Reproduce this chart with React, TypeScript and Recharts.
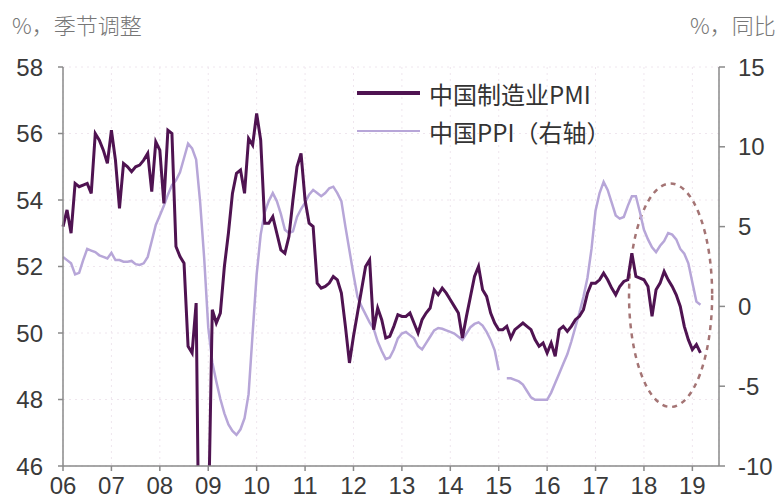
import { CartesianGrid, Line, LineChart, ReferenceArea, XAxis, YAxis } from "recharts";

// x axis: month index from Jan 2006, one tick per year
const yearLabels = ["06", "07", "08", "09", "10", "11", "12", "13", "14", "15", "16", "17", "18", "19"];
const pmiTicks = [46, 48, 50, 52, 54, 56, 58];
const ppiTicks = [-10, -5, 0, 5, 10, 15];
const seriesNames = ["中国制造业PMI", "中国PPI（右轴）"];

// 中国制造业PMI, seasonally adjusted, monthly Jan 2006 .. Mar 2019
const pmi = [
  53.2, 53.7, 53.0, 54.5, 54.4, 54.45, 54.5, 54.2, 56.0, 55.8, 55.5, 55.1,
  56.1, 55.2, 53.75, 55.1, 55.0, 54.85, 55.0, 55.05, 55.2, 55.4, 54.25, 55.75,
  55.5, 53.9, 56.1, 56.0, 52.6, 52.3, 52.1, 49.6, 49.4, 50.9, 40.0, 41.0,
  44.0, 50.7, 50.3, 50.6, 52.0, 53.0, 54.2, 54.8, 54.9, 54.2, 55.85, 55.65,
  56.6, 55.8, 53.3, 53.3, 53.5, 53.0, 52.5, 52.4, 52.9, 54.0, 55.0, 55.4,
  54.0, 53.3, 53.2, 51.5, 51.35, 51.4, 51.5, 51.7, 51.6, 51.2, 50.2, 49.1,
  49.9, 50.6, 51.3, 52.0, 52.2, 50.1, 50.75, 50.4, 49.85, 49.9, 50.2, 50.55,
  50.5, 50.5, 50.6, 50.3, 50.0, 50.4, 50.6, 50.75, 51.3, 51.15, 51.35, 51.2,
  51.0, 50.8, 50.6, 49.85, 50.5, 51.1, 51.7, 52.0, 51.3, 51.1, 50.6, 50.3,
  50.1, 50.1, 50.2, 49.85, 50.1, 50.2, 50.3, 50.2, 50.1, 49.8, 49.6, 49.7,
  49.4, 49.7, 49.3, 50.1, 50.2, 50.05, 50.2, 50.4, 50.5, 50.7, 51.2, 51.5,
  51.5, 51.6, 51.8, 51.6, 51.35, 51.15, 51.4, 51.55, 51.6, 52.4, 51.7, 51.65,
  51.6, 51.4, 50.5, 51.3, 51.5, 51.85, 51.6, 51.4, 51.15, 50.8, 50.2, 49.8,
  49.5, 49.65, 49.4,
];

// 中国PPI, % y/y, same months (gap in early 2015)
const ppi = [
  3.1, 2.9, 2.7, 2.0, 2.1, 2.9, 3.6, 3.5, 3.4, 3.2, 3.1, 3.0,
  3.35, 2.9, 2.9, 2.8, 2.8, 2.85, 2.65, 2.6, 2.7, 3.1, 4.1, 5.1,
  5.7, 6.3, 7.0, 7.6, 7.9, 8.4, 9.3, 10.2, 9.9, 9.2, 6.5, 3.0,
  -1.3, -3.5, -4.7, -5.8, -6.7, -7.4, -7.8, -8.05, -7.7, -7.0, -5.5, -1.7,
  2.0, 4.5, 5.9, 6.6, 7.1, 6.6, 5.8, 4.8, 4.6, 4.7, 5.6, 6.1,
  6.5, 7.0, 7.3, 7.1, 6.9, 7.1, 7.4, 7.5, 7.1, 6.6, 5.0, 3.5,
  2.0, 0.6, 0.0, -0.5, -1.0, -1.4, -2.2, -2.8, -3.3, -3.2, -2.7, -2.0,
  -1.7, -1.6, -1.8, -2.0, -2.5, -2.7, -2.3, -1.9, -1.5, -1.35, -1.4, -1.5,
  -1.6, -1.7, -1.9, -2.1, -1.7, -1.3, -1.1, -1.0, -1.2, -1.6, -2.1, -2.75,
  -4.0, null, -4.5, -4.5, -4.6, -4.7, -4.9, -5.3, -5.7, -5.85, -5.85, -5.85,
  -5.85, -5.4, -4.8, -4.2, -3.6, -3.0, -2.2, -1.3, -0.4, 0.6, 1.8, 3.6,
  6.0, 7.1, 7.8, 7.3, 6.5, 5.7, 5.5, 5.6, 6.3, 6.9, 6.9, 5.9,
  4.8, 4.2, 3.7, 3.4, 3.8, 4.1, 4.6, 4.5, 4.2, 3.6, 3.3, 2.7,
  1.5, 0.3, 0.1,
];

const data = pmi.map((v, i) => ({ m: i, pmi: v, ppi: ppi[i] }));
const xTicks = yearLabels.map((_, i) => i * 12);

const PMI_COLOR = "#4f1351";
const PPI_COLOR = "#b7a6d8";
const AXIS = "#8a8a8a";
const tickStyle = { fill: "#3a3a3a", fontSize: 24, fontFamily: "Liberation Sans, Arial, sans-serif" };
const cjk = "'Noto Sans CJK SC', sans-serif";

function Ellipse(p: any) {
  return (
    <ellipse
      cx={p.x + p.width / 2}
      cy={p.y + p.height / 2}
      rx={p.width / 2}
      ry={p.height / 2}
      fill="none"
      stroke="#a47474"
      strokeWidth={2.5}
      strokeDasharray="5 5"
    />
  );
}

export default function App() {
  return (
    <div style={{ position: "absolute", left: 0, top: 0, width: 782, height: 504, background: "#fff" }}>
      <div style={{ position: "absolute", left: 12, top: 8, fontSize: 22, color: "#777", fontFamily: cjk, fontWeight: 300 }}>
        %，季节调整
      </div>
      <div style={{ position: "absolute", left: 690, top: 8, fontSize: 22, color: "#777", fontFamily: cjk, fontWeight: 300 }}>
        %，同比
      </div>
      <LineChart width={782} height={504} data={data} margin={{ top: 67, right: 0, bottom: 0, left: 0 }}>
        <CartesianGrid yAxisId="pmi" stroke="#efe6ee" strokeDasharray="2 4" />
        <XAxis
          dataKey="m"
          type="number"
          domain={[0, 162.6]}
          ticks={xTicks}
          tickFormatter={(v: number) => yearLabels[v / 12]}
          height={38}
          stroke={AXIS}
          strokeWidth={1.5}
          tickSize={5}
          tickMargin={6}
          tick={tickStyle}
        />
        <YAxis
          yAxisId="pmi"
          domain={[46, 58]}
          ticks={pmiTicks}
          allowDataOverflow
          width={63}
          stroke={AXIS}
          strokeWidth={1.5}
          tickSize={5}
          tickMargin={15}
          tick={tickStyle}
        />
        <YAxis
          yAxisId="ppi"
          orientation="right"
          domain={[-10, 15]}
          ticks={ppiTicks}
          width={63}
          stroke={AXIS}
          strokeWidth={1.5}
          tickSize={6}
          tickMargin={13}
          tick={tickStyle}
        />
        <Line
          yAxisId="ppi"
          dataKey="ppi"
          stroke={PPI_COLOR}
          strokeWidth={2.5}
          dot={false}
          isAnimationActive={false}
        />
        <Line
          yAxisId="pmi"
          dataKey="pmi"
          stroke={PMI_COLOR}
          strokeWidth={3}
          dot={false}
          isAnimationActive={false}
        />
        <ReferenceArea yAxisId="ppi" x1={140.3} x2={160.9} y1={-6.3} y2={7.7} shape={Ellipse} />
      </LineChart>
      <div style={{ position: "absolute", left: 357, top: 75, fontFamily: cjk, fontSize: 24, color: "#333" }}>
        {seriesNames.map((name, i) => (
          <div key={name} style={{ display: "flex", alignItems: "center", height: 36, marginBottom: 2 }}>
            <div
              style={{
                width: 63,
                height: i === 0 ? 4 : 2.5,
                background: i === 0 ? PMI_COLOR : PPI_COLOR,
                marginRight: 9,
              }}
            />
            <span>{name}</span>
          </div>
        ))}
      </div>
    </div>
  );
}
